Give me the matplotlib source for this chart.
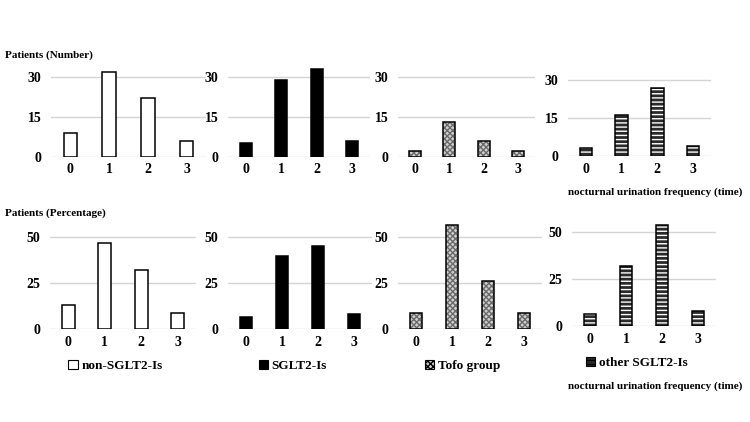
import matplotlib
matplotlib.use("Agg")
import matplotlib.pyplot as plt

plt.rcParams['font.family'] = ['Liberation Serif', 'DejaVu Serif']
plt.rcParams['font.weight'] = 'bold'
plt.rcParams['hatch.linewidth'] = 1.0

freq = ["0", "1", "2", "3"]
groups = ["non-SGLT2-Is", "SGLT2-Is", "Tofo group", "other SGLT2-Is"]

# Patients (Number)
count_non = [9, 32, 22, 6]
count_sglt2 = [5, 29, 33, 6]
count_tofo = [2, 13, 6, 2]
count_other = [3, 16, 27, 4]

# Patients (Percentage)
pct_non = [13.0, 46.4, 31.9, 8.7]
pct_sglt2 = [6.8, 39.7, 45.2, 8.2]
pct_tofo = [8.7, 56.5, 26.1, 8.7]
pct_other = [6.0, 32.0, 54.0, 8.0]

counts = [count_non, count_sglt2, count_tofo, count_other]
pcts = [pct_non, pct_sglt2, pct_tofo, pct_other]

# face colour, hatch, hatch colour
styles = [
    ("white", "", "black"),
    ("black", "", "black"),
    ("#d0d0d0", "xxxxxx", "#6a6a6a"),
    ("#2a2a2a", "----", "white"),
]

W, H = 750, 422
# (left, right) in pixels for each panel, top and bottom row
top_x = [(51, 206), (228, 370), (398, 535), (568, 711)]
bot_x = [(50, 196), (228, 372), (398, 542), (572, 716)]
# (zero line y, top y) in pixels
top_y = [(156.5, 63.8), (156.5, 63.8), (156.5, 63.8), (156, 67.3)]
bot_y = [(329.3, 218.2), (329.3, 218.2), (329.3, 218.2), (325.7, 213.6)]

fig = plt.figure(figsize=(7.5, 4.22), dpi=100)


def draw_bars(ax, values, style):
    face, hatch, hcol = style
    x = range(len(values))
    ax.bar(x, values, width=0.35, color=face, hatch=hatch, edgecolor=hcol, linewidth=0, zorder=2)
    bars = ax.bar(x, values, width=0.35, fill=False, edgecolor="black", linewidth=1.1, zorder=3)
    return bars


def style_axes(ax, ymax, yticks):
    ax.set_xlim(-0.5, 3.5)
    ax.set_ylim(0, ymax)
    ax.set_yticks(yticks)
    ax.set_xticks(range(4))
    ax.set_xticklabels(freq)
    ax.tick_params(length=0, labelsize=10)
    ax.tick_params(axis="x", pad=5)
    ax.tick_params(axis="y", pad=7)
    for s in ax.spines.values():
        s.set_visible(False)
    ax.grid(axis="y", color="#d4d4d4", linewidth=1.0, zorder=0)
    ax.set_axisbelow(True)


for i in range(4):
    l, r = top_x[i]
    y0, y1 = top_y[i]
    ax = fig.add_axes([l / W, 1 - y0 / H, (r - l) / W, (y0 - y1) / H])
    draw_bars(ax, counts[i], styles[i])
    style_axes(ax, 35, [0, 15, 30])

    l, r = bot_x[i]
    y0, y1 = bot_y[i]
    ax = fig.add_axes([l / W, 1 - y0 / H, (r - l) / W, (y0 - y1) / H])
    face, hatch, hcol = styles[i]
    draw_bars(ax, pcts[i], styles[i])
    style_axes(ax, 60, [0, 25, 50])
    handle = plt.Rectangle((0, 0), 1, 1, facecolor=face, hatch=hatch, edgecolor="black", linewidth=0.8)
    ax.legend([handle], [groups[i]], loc="upper center", bbox_to_anchor=(0.45, -0.17),
              frameon=False, fontsize=9.5, handlelength=0.7, handleheight=0.7, handletextpad=0.3)

fig.text(5 / W, 1 - 55 / H, "Patients (Number)", fontsize=8, ha="left", va="center")
fig.text(5 / W, 1 - 213 / H, "Patients (Percentage)", fontsize=8, ha="left", va="center")
fig.text(655 / W, 1 - 192 / H, "nocturnal urination frequency (time)", fontsize=8, ha="center", va="center")
fig.text(655 / W, 1 - 386 / H, "nocturnal urination frequency (time)", fontsize=8, ha="center", va="center")

fig.savefig("out.png", dpi=100)
